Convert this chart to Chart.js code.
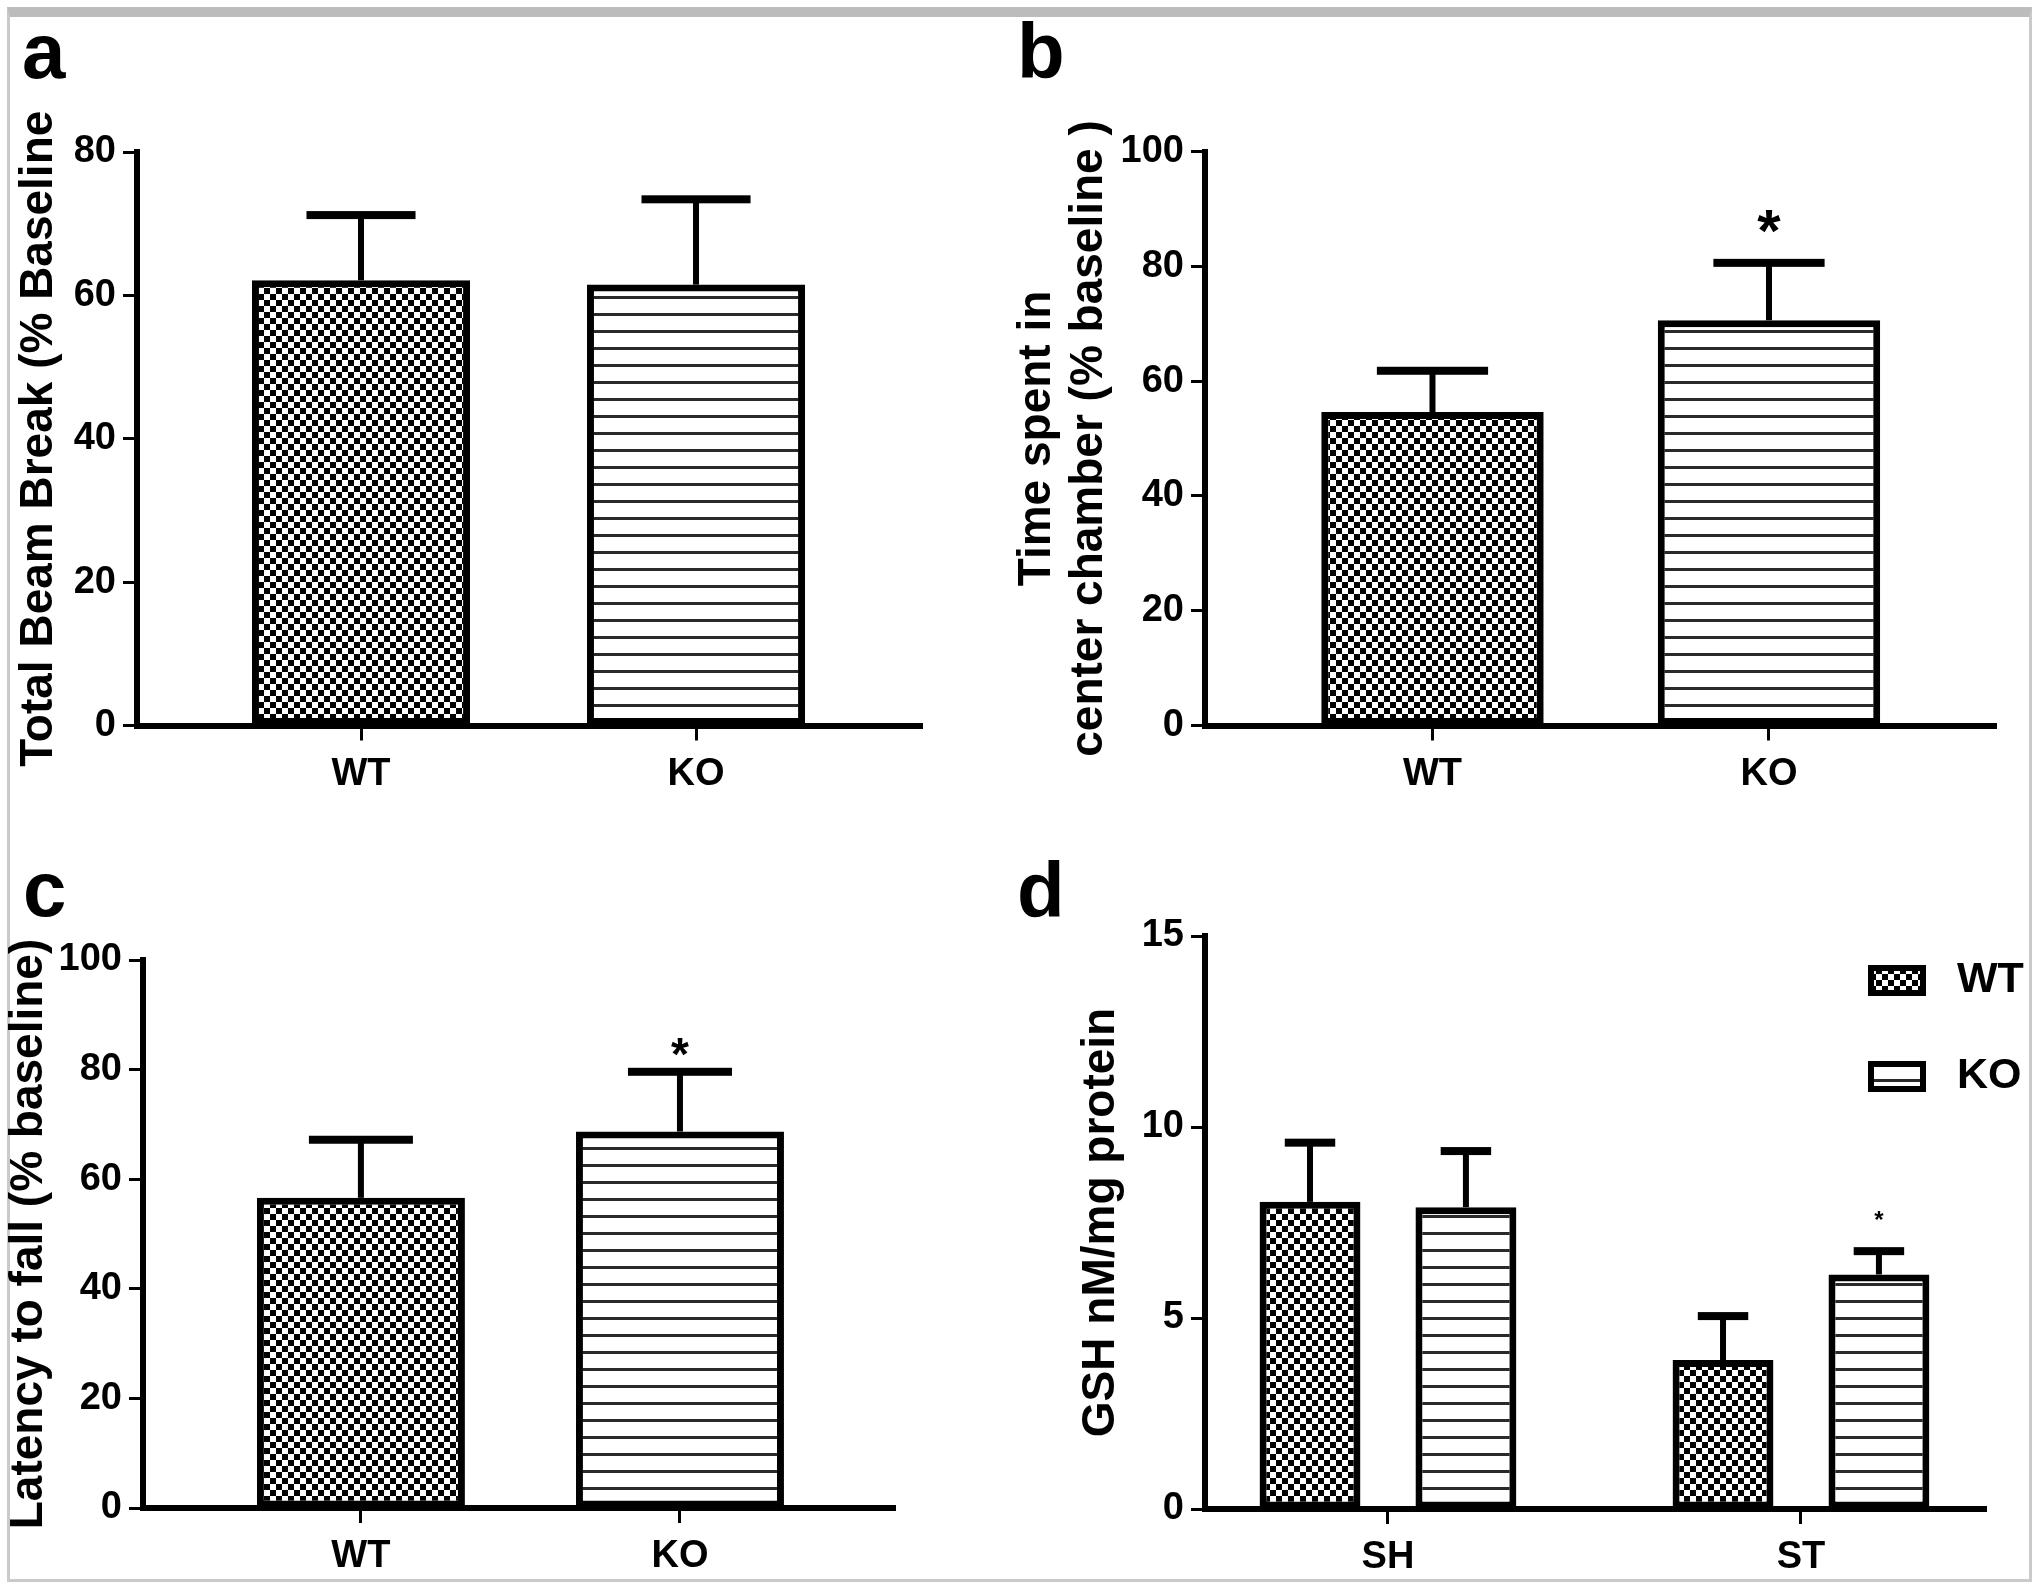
<!DOCTYPE html>
<html>
<head>
<meta charset="utf-8">
<script src="https://cdn.jsdelivr.net/npm/chart.js@4.4.1/dist/chart.umd.min.js"></script>
<style>
  html, body { margin: 0; padding: 0; background: #fff; }
  body { width: 2040px; height: 1590px; position: relative; overflow: hidden; }
  .frame {
    position: absolute; left: 7px; top: 7px; width: 2025px; height: 1575px;
    box-sizing: border-box; border: 3px solid #cacaca; border-top: 10px solid #bcbcbc;
  }
  canvas { position: absolute; }
</style>
</head>
<body>
<div class="frame"></div>
<canvas id="panelA" width="1020" height="800" style="left:0;top:0"></canvas>
<canvas id="panelB" width="1040" height="800" style="left:1000px;top:0"></canvas>
<canvas id="panelC" width="1000" height="790" style="left:0;top:800px"></canvas>
<canvas id="panelD" width="1040" height="790" style="left:1000px;top:800px"></canvas>
<script>
// ---- data (mean and SEM) ----
const genotypes = ['WT', 'KO'];

const beamBreakMean = [62.1, 61.5];
const beamBreakSem = [9.1, 11.9];

const centerTimeMean = [54.6, 70.6];
const centerTimeSem = [7.2, 10.0];
const centerTimeMarks = ['', '*'];

const latencyMean = [56.6, 68.7];
const latencySem = [10.6, 10.9];
const latencyMarks = ['', '*'];

const gshGroups = ['SH', 'ST'];
const gshWtMean = [8.04, 3.9];
const gshWtSem = [1.55, 1.15];
const gshKoMean = [7.9, 6.14];
const gshKoSem = [1.47, 0.61];
const gshKoMarks = ['', '*'];

// ---- styling helpers ----
const FONT = '"Liberation Sans", Arial, sans-serif';
Chart.defaults.font.family = FONT;
Chart.defaults.color = '#000';

function makeChecker() {
    const c = document.createElement('canvas');
    c.width = 12; c.height = 12;
    const g = c.getContext('2d');
    g.fillStyle = '#fff';
    g.fillRect(0, 0, 12, 12);
    g.fillStyle = '#000';
    g.fillRect(0, 0, 6, 6);
    g.fillRect(6, 6, 6, 6);
    return g.createPattern(c, 'repeat');
}

function makeStripes() {
    const c = document.createElement('canvas');
    c.width = 8; c.height = 17;
    const g = c.getContext('2d');
    g.fillStyle = '#fff';
    g.fillRect(0, 0, 8, 17);
    g.fillStyle = '#2a2a2a';
    g.fillRect(0, 7, 8, 3);
    return g.createPattern(c, 'repeat');
}

const checker = makeChecker();
const stripes = makeStripes();

const tickFont = { family: FONT, size: 38, weight: 'bold' };
const titleFont = { family: FONT, size: 46, weight: 'bold', lineHeight: 1.13 };

function points(means) {
    return means.map((v, i) => ({ x: i, y: v }));
}

function yAxis(max, step, title, width) {
    return {
        min: 0,
        max: max,
        ticks: { stepSize: step, color: '#000', font: tickFont, padding: 7 },
        grid: { display: true, drawOnChartArea: false, drawTicks: true, tickLength: 14, tickWidth: 3, tickColor: '#000' },
        border: { display: true, width: 6, color: '#000' },
        title: { display: true, text: title, color: '#000', font: titleFont, padding: 0 },
        afterFit: (s) => { s.width = width; }
    };
}

function xAxis(labels, min, max) {
    return {
        type: 'linear',
        min: min,
        max: max,
        offset: false,
        afterBuildTicks: (s) => { s.ticks = labels.map((_, i) => ({ value: i })); },
        ticks: { callback: (v, i) => labels[i], color: '#000', font: tickFont, padding: 11, maxRotation: 0, autoSkip: false },
        grid: { display: true, offset: false, drawOnChartArea: false, drawTicks: true, tickLength: 15, tickWidth: 3, tickColor: '#000' },
        border: { display: true, width: 6, color: '#000' },
        afterFit: (s) => { s.height = 60; }
    };
}

// error bars, significance marks, panel letter and legend
const extras = {
    id: 'extras',
    afterDatasetsDraw(chart, args, opts) {
        const ctx = chart.ctx;
        const yScale = chart.scales.y;
        ctx.save();
        ctx.fillStyle = '#000';
        chart.data.datasets.forEach((ds, di) => {
            const meta = chart.getDatasetMeta(di);
            meta.data.forEach((bar, i) => {
                const v = ds.data[i].y;
                const top = yScale.getPixelForValue(v + ds.sem[i]);
                const base = yScale.getPixelForValue(v);
                const cap = bar.width * 0.5;
                ctx.fillRect(bar.x - 3, top, 6, base - top);
                ctx.fillRect(bar.x - cap / 2, top - 4, cap, 8);
                const mark = ds.marks ? ds.marks[i] : '';
                if (mark) {
                    ctx.font = `bold ${opts.markSize}px ${FONT}`;
                    ctx.textAlign = 'center';
                    ctx.textBaseline = 'alphabetic';
                    ctx.fillText(mark, bar.x, top - opts.markGap + 0.58 * opts.markSize);
                }
            });
        });

        ctx.font = `bold 78px ${FONT}`;
        ctx.textAlign = 'left';
        ctx.textBaseline = 'alphabetic';
        ctx.fillText(opts.letter, opts.letterX, opts.letterY);

        if (opts.legend) {
            const area = chart.chartArea;
            const boxX = area.right - 115;
            const rows = [area.top + 44, area.top + 140];
            chart.data.datasets.forEach((ds, di) => {
                const cy = rows[di];
                ctx.fillStyle = ds.backgroundColor;
                ctx.fillRect(boxX, cy - 12, 52, 25);
                ctx.lineWidth = 6;
                ctx.strokeStyle = '#000';
                ctx.strokeRect(boxX, cy - 12, 52, 25);
                ctx.fillStyle = '#000';
                ctx.font = `bold 43px ${FONT}`;
                ctx.textBaseline = 'middle';
                ctx.fillText(ds.label, boxX + 86, cy);
            });
        }
        ctx.restore();
    }
};

function barChart(id, cfg) {
    return new Chart(document.getElementById(id), {
        type: 'bar',
        data: { datasets: cfg.datasets },
        options: {
            responsive: false,
            animation: false,
            devicePixelRatio: 1,
            events: [],
            layout: { padding: cfg.padding },
            scales: { x: cfg.x, y: cfg.y },
            plugins: {
                legend: { display: false },
                tooltip: { enabled: false },
                extras: cfg.extras
            }
        },
        plugins: [extras]
    });
}

function barSet(label, means, sem, fill, catPct, barPct, marks) {
    return {
        label: label,
        data: points(means),
        sem: sem,
        marks: marks,
        backgroundColor: fill,
        borderColor: '#000',
        borderWidth: 7,
        borderSkipped: false,
        categoryPercentage: catPct,
        barPercentage: barPct
    };
}

// a: total beam break
barChart('panelA', {
    datasets: [barSet('Total Beam Break', beamBreakMean, beamBreakSem, [checker, stripes], 0.651, 1)],
    padding: { left: 13, right: 98, top: 152, bottom: 14.5 },
    x: xAxis(genotypes, -0.6687, 1.6746),
    y: yAxis(80, 20, 'Total Beam Break (% Baseline', 124),
    extras: { letter: 'a', letterX: 22, letterY: 78, markSize: 60, markGap: 47 }
});

// b: time in center chamber
barChart('panelB', {
    datasets: [barSet('Time spent', centerTimeMean, centerTimeSem, [checker, stripes], 0.661, 1, centerTimeMarks)],
    padding: { left: 11, right: 44, top: 151.5, bottom: 14.5 },
    x: xAxis(genotypes, -0.676, 1.6746),
    y: yAxis(100, 20, ['Time spent in', 'center chamber (% baseline )'], 194),
    extras: { letter: 'b', letterX: 17, letterY: 78, markSize: 60, markGap: 47 }
});

// c: latency to fall
barChart('panelC', {
    datasets: [barSet('Latency', latencyMean, latencySem, [checker, stripes], 0.652, 1, latencyMarks)],
    padding: { left: 3, right: 105, top: 160, bottom: 22 },
    x: xAxis(genotypes, -0.683, 1.674),
    y: yAxis(100, 20, 'Latency to fall (% baseline)', 140),
    extras: { letter: 'c', letterX: 23, letterY: 116, markSize: 46, markGap: 28 }
});

// d: GSH levels, grouped
barChart('panelD', {
    datasets: [
        barSet('WT', gshWtMean, gshWtSem, checker, 0.755, 0.647),
        barSet('KO', gshKoMean, gshKoSem, stripes, 0.755, 0.647, gshKoMarks)
    ],
    padding: { left: 75, right: 54, top: 136, bottom: 21 },
    x: xAxis(gshGroups, -0.443, 1.448),
    y: yAxis(15, 5, 'GSH nM/mg protein', 130),
    extras: { letter: 'd', letterX: 17, letterY: 117, markSize: 24, markGap: 37, legend: true }
});
</script>
</body>
</html>
